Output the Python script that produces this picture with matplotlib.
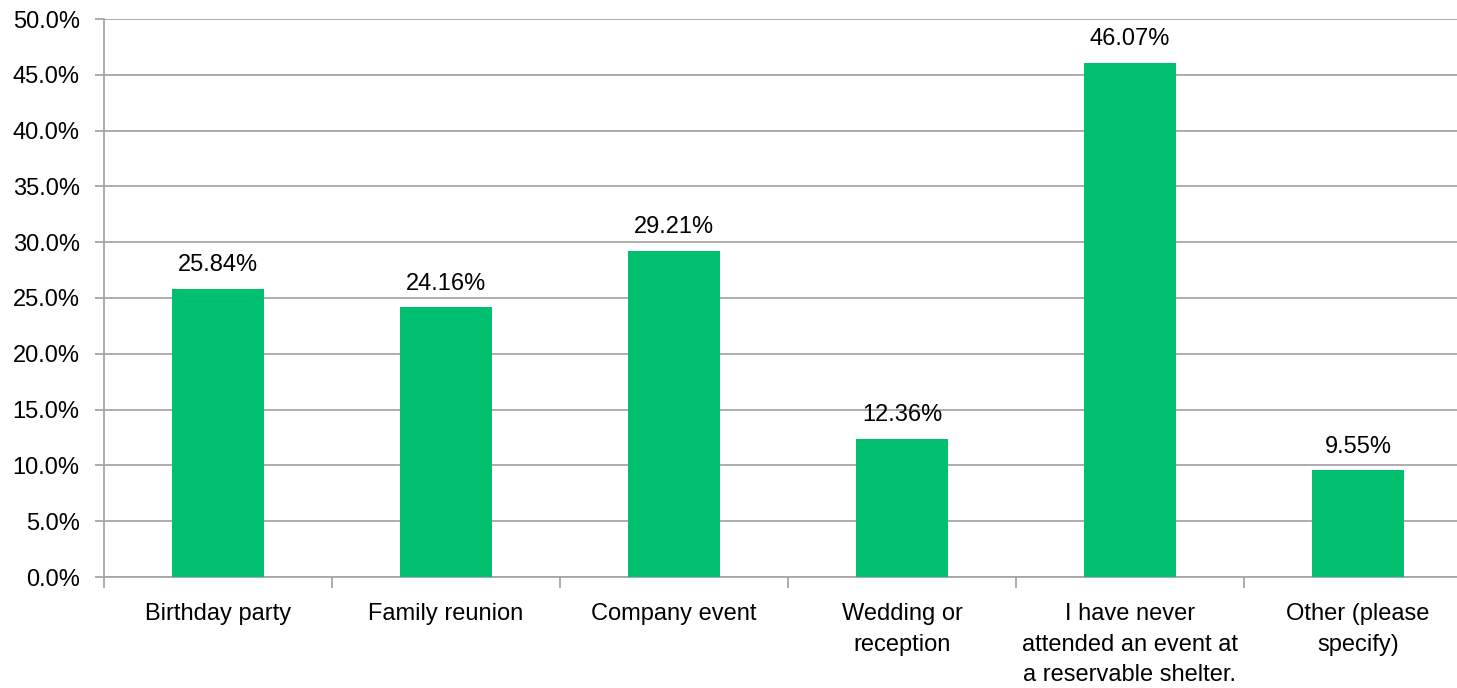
import matplotlib.pyplot as plt
import numpy as np
from matplotlib.ticker import FuncFormatter

plt.rcParams['font.family'] = ['Liberation Sans', 'DejaVu Sans']

categories = ['Birthday party', 'Family reunion', 'Company event', 'Wedding or\nreception',
              'I have never\nattended an event at\na reservable shelter.', 'Other (please\nspecify)']
values = [25.84, 24.16, 29.21, 12.36, 46.07, 9.55]

fig = plt.figure(figsize=(14.57, 6.88), dpi=100)
ax = fig.add_axes([104 / 1457, 1 - 577 / 688, (1472 - 104) / 1457, (577 - 19) / 688])

x = np.arange(len(categories))
ax.bar(x, values, width=0.4, color='#00BF6F', zorder=3)
for xi, v in zip(x, values):
    ax.text(xi, v + 1.6, '{:.2f}%'.format(v), ha='center', va='baseline', fontsize=17, color='black')

ax.set_xlim(-0.5, len(categories) - 0.5)
ax.set_ylim(0, 50)
ax.set_yticks(np.arange(0, 50.1, 5))
ax.yaxis.set_major_formatter(FuncFormatter(lambda v, p: '{:.1f}%'.format(v)))
ax.yaxis.grid(True, color='#A6A6A6', linewidth=1.3, zorder=0)

ax.set_xticks(x)
ax.set_xticklabels(categories, fontsize=17, linespacing=1.5)
ax.set_xticks(np.arange(-0.5, len(categories), 1), minor=True)
ax.tick_params(axis='x', which='major', length=0, pad=19)
ax.tick_params(axis='x', which='minor', length=8, color='#A6A6A6', width=1.3)
ax.tick_params(axis='y', length=6.5, color='#A6A6A6', width=1.3, labelsize=17, pad=11)

for s in ['top', 'right']:
    ax.spines[s].set_visible(False)
for s in ['left', 'bottom']:
    ax.spines[s].set_color('#A6A6A6')
    ax.spines[s].set_linewidth(1.3)

fig.savefig('out.png', dpi=100)
